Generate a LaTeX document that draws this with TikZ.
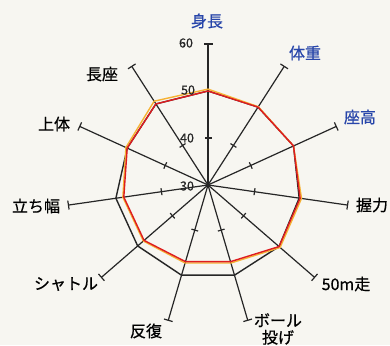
\documentclass[tikz,border=0pt]{standalone}
\usepackage{fontspec}
\newfontfamily\jpfont[FakeBold=0.7]{Noto Sans CJK JP}
\usepackage{tikz}
\usetikzlibrary{calc}

\definecolor{carta}{RGB}{247,246,241}
\definecolor{blu}{RGB}{40,70,170}
\definecolor{rosso}{RGB}{222,28,32}
\definecolor{arancio}{RGB}{246,178,52}

\tikzset{
  asse/.style={line width=1.2pt, black!85},
  etichetta/.style={font=\jpfont\fontsize{16}{17}\selectfont, inner sep=0pt, align=center},
  numero/.style={font=\jpfont\fontsize{12.5}{13}\selectfont, inner sep=0pt, black!85},
  poligono/.style={line width=1.4pt, line join=round}
}

\begin{document}
\begin{tikzpicture}[x=1pt, y=1pt]
    \fill[carta] (-208,-160) rectangle (182,185);
    \useasboundingbox (-208,-160) rectangle (182,185);

    %assi
    \foreach \i in {0,...,10} {
      \coordinate (c\i) at ({90-\i*360/11}:141);
      \coordinate (t\i) at ({90-\i*360/11}:47);
      \draw[asse] (0,0) -- (c\i);
      \draw[asse] ($(c\i)+({-\i*360/11}:4.5)$) -- ($(c\i)+({180-\i*360/11}:4.5)$);
      \draw[asse] ($(t\i)+({-\i*360/11}:3.5)$) -- ($(t\i)+({180-\i*360/11}:3.5)$);
    }

    %poligono nero
    \foreach \v [count=\i from 0] in {50,49.7,50,49.6,50,50,50,49.8,49.8,48.9,50.5}
      \coordinate (n\i) at ({90-\i*360/11}:{(\v-30)*4.7});
    \draw[poligono, black!85] (n0) -- (n1) -- (n2) -- (n3) -- (n4) -- (n5) -- (n6) -- (n7) -- (n8) -- (n9) -- (n10) -- cycle;

    %poligono arancio
    \foreach \v [count=\i from 0] in {50.4,49.8,50,50.1,50.3,47.3,47.3,48.2,48.3,49.2,51.2}
      \coordinate (a\i) at ({90-\i*360/11}:{(\v-30)*4.7});
    \draw[poligono, arancio] (a0) -- (a1) -- (a2) -- (a3) -- (a4) -- (a5) -- (a6) -- (a7) -- (a8) -- (a9) -- (a10) -- cycle;

    %poligono rosso
    \foreach \v [count=\i from 0] in {50,49.7,50,49.8,50,47,47,48,48.1,48.9,50.5}
      \coordinate (r\i) at ({90-\i*360/11}:{(\v-30)*4.7});
    \draw[poligono, rosso] (r0) -- (r1) -- (r2) -- (r3) -- (r4) -- (r5) -- (r6) -- (r7) -- (r8) -- (r9) -- (r10) -- cycle;

    %scala
    \node[numero] (s60) at (-22,142) {60};
    \node[numero] (s50) at (-20,95) {50};
    \node[numero] (s40) at (-21,47) {40};
    \node[numero] (s30) at (-21,-1) {30};

    %voci
    \node[etichetta, text=blu] (shincho) at (-1,164) {身長};
    \node[etichetta, text=blu] (taiju) at (97,132) {体重};
    \node[etichetta, text=blu] (zako) at (152,68) {座高};
    \node[etichetta] (akuryoku) at (164,-20) {握力};
    \node[etichetta] (soku) at (138,-99) {50m走};
    \node[etichetta] (ball) at (70,-144) {ボール\\投げ};
    \node[etichetta] (hanpuku) at (-62,-146) {反復};
    \node[etichetta] (shuttle) at (-142,-99) {シャトル};
    \node[etichetta] (tachihaba) at (-172,-21) {立ち幅};
    \node[etichetta] (jotai) at (-154,61) {上体};
    \node[etichetta] (choza) at (-106,111) {長座};
\end{tikzpicture}
\end{document}
